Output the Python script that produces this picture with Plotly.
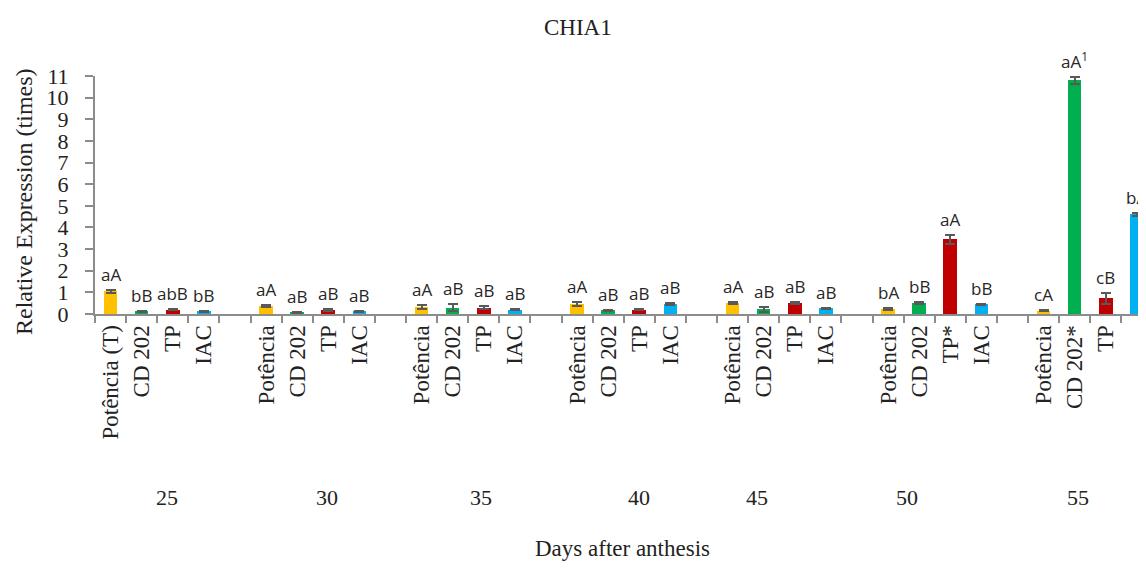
import plotly.graph_objects as go

days = ["25", "30", "35", "40", "45", "50", "55"]
cultivars = ["Potência", "CD 202", "TP", "IAC"]
colors = ["#FFC000", "#00B050", "#C00000", "#00B0F0"]

# values per cultivar across days
potencia = [1.05, 0.37, 0.33, 0.45, 0.50, 0.23, 0.15]
cd202 = [0.12, 0.08, 0.30, 0.18, 0.22, 0.50, 10.8]
tp = [0.20, 0.18, 0.30, 0.20, 0.50, 3.45, 0.72]
iac = [0.12, 0.12, 0.20, 0.47, 0.27, 0.45, 4.60]

err_potencia = [0.08, 0.03, 0.08, 0.10, 0.05, 0.05, 0.03]
err_cd202 = [0.02, 0.02, 0.15, 0.02, 0.12, 0.05, 0.15]
err_tp = [0.03, 0.03, 0.06, 0.03, 0.05, 0.20, 0.25]
err_iac = [0.02, 0.02, 0.02, 0.04, 0.03, 0.03, 0.05]

letters_potencia = ["aA", "aA", "aA", "aA", "aA", "bA", "cA"]
letters_cd202 = ["bB", "aB", "aB", "aB", "aB", "bB", "aA<sup>1</sup>"]
letters_tp = ["abB", "aB", "aB", "aB", "aB", "aA", "cB"]
letters_iac = ["bB", "aB", "aB", "aB", "aB", "bB", "bA"]

tick_names = [
    ["Potência (T)", "CD 202", "TP", "IAC"],
    ["Potência", "CD 202", "TP", "IAC"],
    ["Potência", "CD 202", "TP", "IAC"],
    ["Potência", "CD 202", "TP", "IAC"],
    ["Potência", "CD 202", "TP", "IAC"],
    ["Potência", "CD 202", "TP*", "IAC"],
    ["Potência", "CD 202*", "TP", "IAC"],
]

y_ticks = list(range(0, 12))

series_vals = [potencia, cd202, tp, iac]
series_err = [err_potencia, err_cd202, err_tp, err_iac]
series_letters = [letters_potencia, letters_cd202, letters_tp, letters_iac]

SLOTS = 5  # 4 bars + 1 gap per day group
SERIF = "Liberation Serif"
SLOT_PX = 31.1

# the page body adds an 8px margin on every side; size the figure to fit the window
OFFX, OFFY = 8, 8
W, H = 1146 - 2 * OFFX, 570 - 2 * OFFY
PLOT_TOP, PLOT_BOTTOM, PLOT_LEFT = 76 - OFFY, 314 - OFFY, 95 - OFFX
PH = PLOT_BOTTOM - PLOT_TOP
PW = W - PLOT_LEFT
X_END = PW / SLOT_PX


def py(pix):  # page pixel y -> paper y
    return (PLOT_BOTTOM - (pix - OFFY)) / PH


def px(pix):  # page pixel x -> paper x
    return ((pix - OFFX) - PLOT_LEFT) / PW


fig = go.Figure()
annotations = []
for c, name in enumerate(cultivars):
    xs = [SLOTS * g + c + 0.5 for g in range(len(days))]
    fig.add_trace(go.Bar(
        x=xs, y=series_vals[c], name=name,
        marker=dict(color=colors[c], line=dict(width=0)),
        width=0.44,
        error_y=dict(type="data", array=series_err[c], visible=True,
                     color="#595959", thickness=2, width=5),
        showlegend=False,
    ))
    for g in range(len(days)):
        annotations.append(dict(
            x=xs[g], y=series_vals[c][g] + series_err[c][g],
            xref="x", yref="y", text=series_letters[c][g],
            showarrow=False, yanchor="bottom", yshift=2,
            font=dict(family="Open Sans", size=17, color="#262626"),
        ))

tickvals = []
ticktext = []
for g in range(len(days)):
    for c in range(len(cultivars)):
        tickvals.append(SLOTS * g + c + 0.5)
        ticktext.append(tick_names[g][c])

# day group label horizontal positions (slot units)
day_label_x = [2.3, 7.46, 12.4, 17.5, 21.3, 26.1, 31.6]
for g, d in enumerate(days):
    annotations.append(dict(
        x=day_label_x[g], y=py(497), xref="x", yref="paper", text=d,
        showarrow=False, xanchor="center", yanchor="middle",
        font=dict(family=SERIF, size=22, color="#222222"),
    ))

annotations.append(dict(
    x=px(622), y=py(548), xref="paper", yref="paper", text="Days after anthesis",
    showarrow=False, xanchor="center", yanchor="middle",
    font=dict(family=SERIF, size=23, color="#222222"),
))
annotations.append(dict(
    x=px(24), y=py(202), xref="paper", yref="paper",
    text="Relative Expression (times)", textangle=-90,
    showarrow=False, xanchor="center", yanchor="middle",
    font=dict(family=SERIF, size=24, color="#222222"),
))
annotations.append(dict(
    x=px(578), y=py(27), xref="paper", yref="paper", text="CHIA1",
    showarrow=False, xanchor="center", yanchor="middle",
    font=dict(family=SERIF, size=23, color="#222222"),
))

fig.update_layout(
    width=W, height=H,
    margin=dict(l=PLOT_LEFT, r=0, t=PLOT_TOP, b=H - PLOT_BOTTOM, pad=0, autoexpand=False),
    paper_bgcolor="white", plot_bgcolor="white",
    bargap=0,
    annotations=annotations,
    xaxis=dict(
        range=[0, X_END],
        tickmode="array", tickvals=tickvals, ticktext=ticktext,
        tickangle=-90, ticks="",
        tickfont=dict(family=SERIF, size=23, color="#222222"),
        ticklabelstandoff=0,
        showline=True, linecolor="#8C8C8C", linewidth=2,
        showgrid=False, zeroline=False, automargin=False,
        minor=dict(tickmode="linear", tick0=0, dtick=1, ticks="outside",
                   ticklen=7, tickcolor="#8C8C8C", tickwidth=2, showgrid=False),
    ),
    yaxis=dict(
        range=[0, 11], tickmode="array", tickvals=y_ticks,
        ticks="outside", ticklen=8, tickcolor="#8C8C8C", tickwidth=2,
        tickfont=dict(family=SERIF, size=22, color="#222222"),
        ticklabelstandoff=12, automargin=False,
        showline=True, linecolor="#8C8C8C", linewidth=2,
        showgrid=False, zeroline=False,
    ),
)

fig.write_html("out.html")
